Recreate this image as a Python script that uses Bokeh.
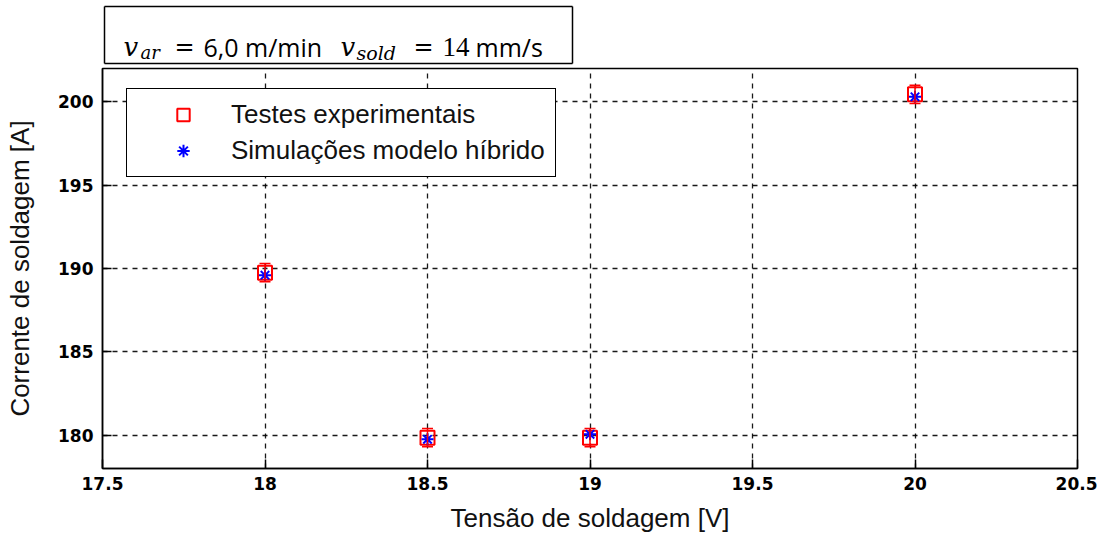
from bokeh.plotting import figure
from bokeh.models import Range1d, FixedTicker, Whisker, TeeHead, ColumnDataSource, Label, BoxAnnotation
from bokeh.layouts import column
from bokeh.embed import file_html
from bokeh.resources import INLINE

# ---- data ----
tensao = [18.0, 18.5, 19.0, 20.0]
corrente_exp = [189.75, 179.85, 179.85, 200.45]
erro_exp = [0.55, 0.55, 0.55, 0.55]
corrente_sim = [189.6, 179.75, 180.05, 200.3]

x_ticks = [17.5, 18.0, 18.5, 19.0, 19.5, 20.0, 20.5]
x_tick_labels = ["17.5", "18", "18.5", "19", "19.5", "20", "20.5"]
y_ticks = [180, 185, 190, 195, 200]
y_tick_labels = ["180", "185", "190", "195", "200"]

label_exp = "Testes experimentais"
label_sim = "Simulações modelo híbrido"
x_label = "Tensão de soldagem [V]"
y_label = "Corrente de soldagem [A]"

# ---- title box (separate small figure) ----
t = figure(x_range=Range1d(-2, 483), y_range=Range1d(-4, 59),
           frame_width=485, frame_height=63,
           min_border_left=95, min_border_right=0, min_border_top=4, min_border_bottom=0,
           x_axis_type=None, y_axis_type=None,
           output_backend="svg", toolbar_location=None)
t.outline_line_color = None
t.background_fill_color = "white"
t.border_fill_color = "white"
# box edges drawn as thin filled bars
box_edges = [(0, 468, 56.25, 57.75), (0, 468, -0.75, 0.75),
             (-0.75, 0.75, 0, 57), (467.25, 468.75, 0, 57)]
for l, r, b, tp in box_edges:
    t.add_layout(BoxAnnotation(left=l, right=r, bottom=b, top=tp,
                               fill_color="black", fill_alpha=1.0, line_alpha=0))

pieces = [
    ("v", 19, 17, "DejaVu Serif", "26px", "italic"),
    ("ar", 36, 11, "DejaVu Serif", "18px", "italic"),
    ("=", 70, 17, "DejaVu Serif", "24px", "normal"),
    ("6,0 m/min", 99, 17, "Open Sans", "25px", "normal"),
    ("v", 236, 17, "DejaVu Serif", "26px", "italic"),
    ("sold", 252, 11, "DejaVu Serif", "19px", "italic"),
    ("=", 309, 17, "DejaVu Serif", "24px", "normal"),
    ("14", 338, 17, "Liberation Serif", "27px", "normal"),
    ("mm/s", 371, 17, "Open Sans", "25px", "normal"),
]
for txt, xx, yy, fnt, sz, sty in pieces:
    t.add_layout(Label(x=xx, y=yy, text=txt, text_font=fnt, text_font_size=sz,
                       text_font_style=sty, text_color="black",
                       text_baseline="alphabetic", text_align="left"))

# ---- main plot ----
p = figure(x_range=Range1d(17.5, 20.5), y_range=Range1d(178, 202),
           frame_width=975, frame_height=400,
           min_border_left=102, min_border_right=20, min_border_top=1, min_border_bottom=10,
           x_axis_label=x_label, y_axis_label=y_label,
           output_backend="svg", toolbar_location=None)
p.background_fill_color = "white"
p.border_fill_color = "white"
p.outline_line_color = "black"
p.outline_line_width = 1.5
p.outline_line_alpha = 1.0

for ax in (p.xaxis[0], p.yaxis[0]):
    ax.axis_line_color = "black"
    ax.axis_line_width = 1.5
    ax.major_tick_line_color = "black"
    ax.major_tick_line_width = 1.5
    ax.major_tick_in = 9
    ax.major_tick_out = 0
    ax.minor_tick_line_color = None
    ax.major_label_text_font = "DejaVu Sans"
    ax.major_label_text_font_style = "bold"
    ax.major_label_text_font_size = "17px"
    ax.major_label_text_color = "black"
    ax.axis_label_text_font = "Liberation Sans"
    ax.axis_label_text_font_style = "normal"
    ax.axis_label_text_font_size = "26px"
    ax.axis_label_text_color = "#111111"

p.xaxis[0].ticker = FixedTicker(ticks=x_ticks)
p.xaxis[0].major_label_overrides = dict(zip(x_ticks, x_tick_labels))
p.xaxis[0].major_label_standoff = 8
p.xaxis[0].axis_label_standoff = 10
p.yaxis[0].ticker = FixedTicker(ticks=y_ticks)
p.yaxis[0].major_label_overrides = {float(k): v for k, v in zip(y_ticks, y_tick_labels)}
p.yaxis[0].major_label_standoff = 9
p.yaxis[0].axis_label_standoff = 20

for g in (p.xgrid[0], p.ygrid[0]):
    g.grid_line_color = "black"
    g.grid_line_width = 1.3
    g.grid_line_dash = "5 5"
    g.grid_line_alpha = 0.9

src = ColumnDataSource(dict(
    x=tensao,
    exp=corrente_exp,
    sim=corrente_sim,
    upper=[c + e for c, e in zip(corrente_exp, erro_exp)],
    lower=[c - e for c, e in zip(corrente_exp, erro_exp)],
))

whisk = Whisker(base="x", upper="upper", lower="lower", source=src, dimension="height",
                line_color="red", line_width=1.5,
                upper_head=TeeHead(size=11, line_color="red", line_width=1.5),
                lower_head=TeeHead(size=11, line_color="red", line_width=1.5))
whisk.level = "glyph"
p.add_layout(whisk)

p.scatter("x", "exp", source=src, marker="square", size=14, fill_color=None,
          line_color="red", line_width=2, legend_label=label_exp)
p.scatter("x", "sim", source=src, marker="asterisk", size=12,
          line_color="blue", line_width=2, legend_label=label_sim)

lg = p.legend[0]
lg.location = (24, 291)
lg.margin = 0
lg.padding = 10
lg.spacing = 5
lg.glyph_width = 92
lg.glyph_height = 31
lg.label_height = 31
lg.label_standoff = 2
lg.label_text_font = "Liberation Sans"
lg.label_text_font_size = "26px"
lg.label_text_color = "#111111"
lg.border_line_color = "black"
lg.border_line_width = 1.5
lg.border_line_alpha = 1.0
lg.background_fill_color = "white"
lg.background_fill_alpha = 1.0

layout = column(t, p, spacing=0)
open("out.html", "w").write(file_html(layout, INLINE))
